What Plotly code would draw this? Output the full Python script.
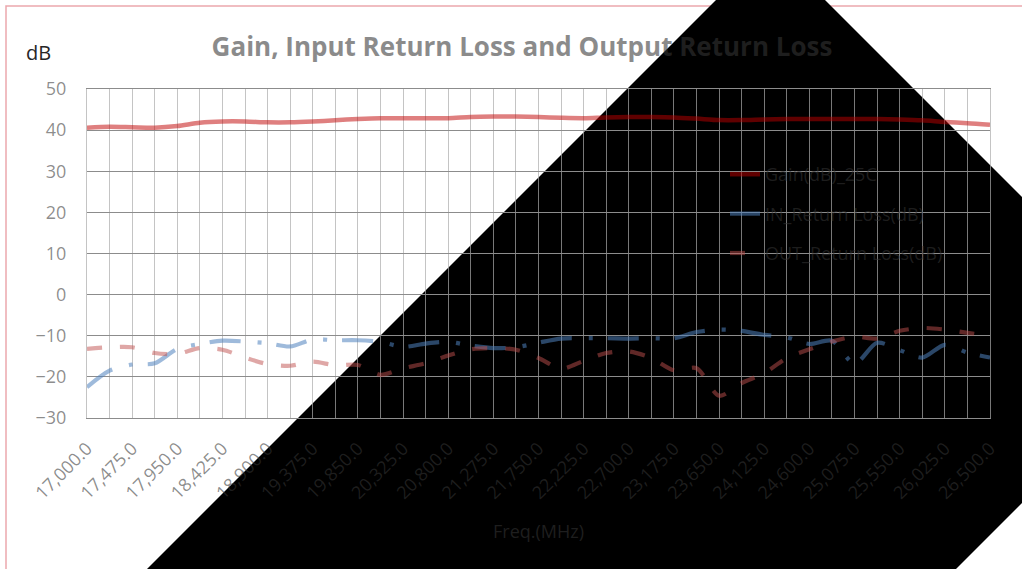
import plotly.graph_objects as go

# ---------------- data ----------------
freq_start = 17000.0
freq_step = 237.5
freq_mhz = [freq_start + i * freq_step for i in range(41)]

gain_db = [40.6, 40.8, 40.7, 40.6, 41.0, 41.8, 42.1, 42.1, 41.9, 41.9,
           42.1, 42.4, 42.7, 42.9, 42.9, 42.9, 42.9, 43.2, 43.3, 43.3,
           43.2, 43.0, 42.9, 43.1, 43.2, 43.2, 43.1, 42.8, 42.45, 42.45,
           42.6, 42.7, 42.7, 42.7, 42.7, 42.7, 42.6, 42.4, 42.0, 41.7, 41.3]

in_rl_db = [-22.5, -18.5, -17.0, -16.7, -13.2, -12.0, -11.2, -11.4, -11.8, -12.6,
            -10.9, -11.1, -11.1, -11.5, -12.7, -11.9, -11.5, -12.4, -13.0, -12.8,
            -11.7, -10.7, -10.6, -10.6, -10.7, -10.6, -10.6, -9.1, -8.5, -8.8,
            -9.8, -10.4, -12.0, -11.2, -16.8, -11.7, -13.5, -15.3, -12.2, -14.1, -15.3]

out_rl_db = [-13.2, -12.8, -12.8, -14.2, -14.4, -13.0, -13.4, -15.3, -16.9, -17.3,
             -16.3, -17.2, -17.1, -19.5, -17.9, -16.7, -14.8, -13.3, -13.0, -13.4,
             -15.4, -18.0, -16.1, -14.2, -13.8, -15.4, -18.4, -17.9, -24.6, -21.5,
             -19.1, -15.4, -13.3, -11.4, -10.2, -10.7, -8.8, -8.1, -8.5, -9.3, -10.0]

series_names = ["Gain(dB)_25C", "IN_Return Loss(dB)", "OUT_Return Loss(dB)"]
title_text = "Gain, Input Return Loss and Output Return Loss"
x_title = "Freq.(MHz)"
y_title = "dB"

# ---------------- layout geometry (pixels) ----------------
W, H = 1022, 569
L, R, T, B = 87, 32, 89, 151
PW, PH = W - L - R, H - T - B


def pxx(sx):
    """screen x pixel -> paper x"""
    return (sx - L) / PW


def pxy(sy):
    """screen y pixel -> paper y"""
    return (T + PH - sy) / PH


FONT = "Open Sans"
TXT = "rgba(53,53,53,0.57)"
VGRID = "rgba(171,171,171,0.7)"
HGRID = "#8c8c8c"

fig = go.Figure()

fig.add_trace(go.Scatter(
    x=freq_mhz, y=gain_db, name=series_names[0], mode="lines",
    line=dict(color="rgba(192,0,0,0.5)", width=4.5, shape="spline", smoothing=0.8),
    legendgroup="g1"))
fig.add_trace(go.Scatter(
    x=freq_mhz, y=in_rl_db, name=series_names[1], mode="lines",
    line=dict(color="rgba(79,129,189,0.55)", width=4.2, shape="spline", smoothing=0.8,
              dash="31px,17px,4px,15px"),
    legendgroup="g2"))
fig.add_trace(go.Scatter(
    x=freq_mhz, y=out_rl_db, name=series_names[2], mode="lines",
    line=dict(color="rgba(192,80,77,0.5)", width=4.2, shape="spline", smoothing=0.8,
              dash="15px,18px"),
    legendgroup="g3"))

# black diagonal overlay polygon + outer border (paper coords, beneath everything)
poly = [(770.5, -54.5), (1175, 350), (412.5, 1112.5), (8, 708)]
path = "M" + " L".join(f"{pxx(a):.5f},{pxy(b):.5f}" for a, b in poly) + " Z"

shapes = [
    dict(type="rect", xref="paper", yref="paper",
         x0=pxx(6), y0=pxy(6), x1=pxx(1060), y1=pxy(620),
         line=dict(color="rgba(210,60,70,0.45)", width=1.5),
         fillcolor="rgba(0,0,0,0)", layer="below"),
    dict(type="path", xref="paper", yref="paper", path=path,
         fillcolor="black", line=dict(width=0), layer="below"),
]

fig.update_layout(
    width=W, height=H,
    margin=dict(l=L, r=R, t=T, b=B, autoexpand=False),
    paper_bgcolor="white", plot_bgcolor="rgba(0,0,0,0)",
    font=dict(family=FONT, size=18, color=TXT),
    title=dict(text=title_text, x=pxx(522), xref="paper", xanchor="center",
               y=1 - 47 / H, yref="container", yanchor="middle",
               font=dict(family=FONT, size=26, color=TXT, weight=700)),
    shapes=shapes,
    showlegend=True,
    legend=dict(x=pxx(725), y=pxy(156), xanchor="left", yanchor="top",
                bgcolor="rgba(0,0,0,0)", font=dict(family=FONT, size=18, color=TXT),
                tracegroupgap=13, itemwidth=30),
    annotations=[dict(text=y_title, xref="paper", yref="paper",
                      x=pxx(38), y=pxy(52), xanchor="center", yanchor="middle",
                      showarrow=False, font=dict(family=FONT, size=20, color="#262626"))],
)

fig.update_xaxes(
    range=[freq_mhz[0], freq_mhz[-1]],
    tickmode="linear", tick0=freq_mhz[0], dtick=2 * freq_step,
    tickformat=",.1f", tickangle=-45, ticks="",
    tickfont=dict(family=FONT, size=18, color=TXT),
    ticklabelstandoff=12,
    showgrid=True, gridcolor=VGRID, gridwidth=1,
    minor=dict(dtick=freq_step, tick0=freq_mhz[0], showgrid=True, gridcolor=VGRID, gridwidth=1),
    showline=True, linecolor=HGRID, linewidth=1, mirror=True,
    zeroline=False,
    title=dict(text=x_title, standoff=22, font=dict(family=FONT, size=18, color=TXT)),
)
fig.update_yaxes(
    range=[-30, 50], tickmode="linear", tick0=-30, dtick=10, ticks="",
    tickfont=dict(family=FONT, size=18, color=TXT),
    ticklabelstandoff=16,
    showgrid=True, gridcolor=HGRID, gridwidth=1,
    showline=True, linecolor=VGRID, linewidth=1, mirror=True,
    zeroline=False,
)

fig.write_html("out.html",
               config={"displayModeBar": False},
               post_script="document.body.style.margin='0';document.body.style.overflow='hidden';")
